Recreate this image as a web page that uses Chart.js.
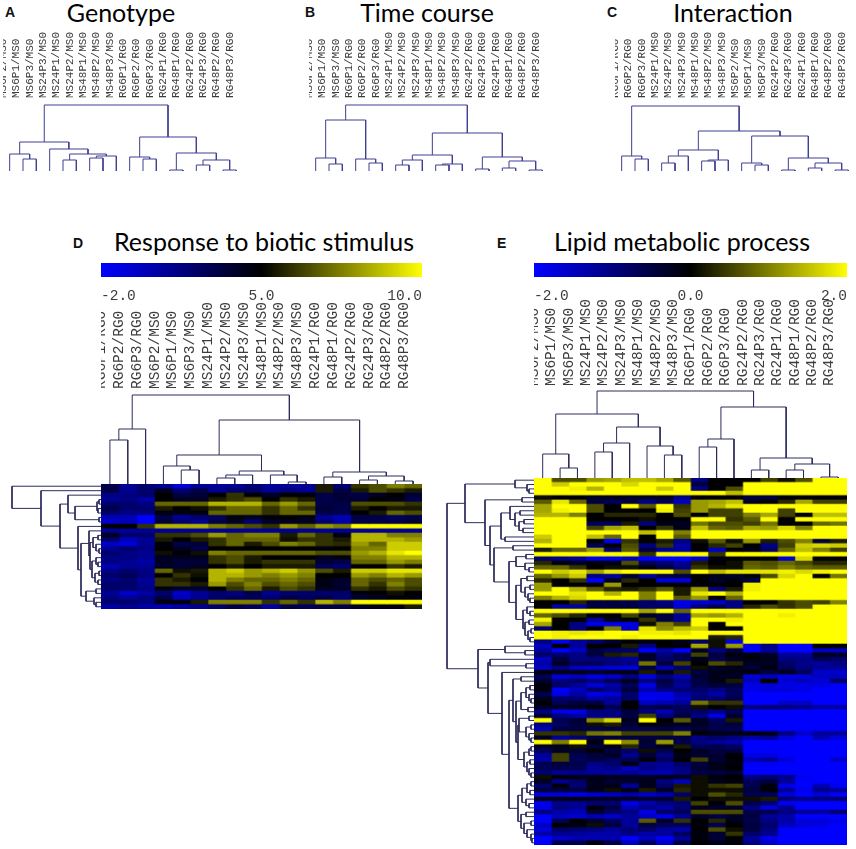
<!DOCTYPE html>
<html lang="en">
<head>
<meta charset="UTF-8">
<title>Clustered expression heatmaps</title>
<script src="https://cdn.jsdelivr.net/npm/chart.js@4"></script>
<style>
    body { margin: 0; background: #fff; }
    #page { position: relative; width: 856px; height: 849px; overflow: hidden; }
    canvas { position: absolute; }
    .title { position: absolute; transform: translateX(-50%); font: 25px Lato, sans-serif; color: #000; white-space: nowrap; line-height: 32px; }
    .tag { position: absolute; font: bold 14px "Liberation Sans", sans-serif; color: #111; line-height: 16px; }
</style>
</head>
<body>
<div id="page"></div>
<script>
// sample order per panel
const labelsA = ['MS6P2/MS0','MS6P1/MS0','MS6P3/MS0','MS24P3/MS0','MS24P1/MS0','MS24P2/MS0','MS48P1/MS0','MS48P2/MS0','MS48P3/MS0','RG6P1/RG0','RG6P2/RG0','RG6P3/RG0','RG24P1/RG0','RG48P1/RG0','RG24P2/RG0','RG24P3/RG0','RG48P2/RG0','RG48P3/RG0'];
const labelsB = ['MS6P2/MS0','MS6P1/MS0','MS6P3/MS0','RG6P1/RG0','RG6P2/RG0','RG6P3/RG0','MS24P1/MS0','MS24P2/MS0','MS24P3/MS0','MS48P1/MS0','MS48P2/MS0','MS48P3/MS0','RG24P2/RG0','RG24P3/RG0','RG24P1/RG0','RG48P1/RG0','RG48P2/RG0','RG48P3/RG0'];
const labelsC = ['RG6P1/RG0','RG6P2/RG0','RG6P3/RG0','MS24P1/MS0','MS24P2/MS0','MS24P3/MS0','MS48P1/MS0','MS48P2/MS0','MS48P3/MS0','MS6P2/MS0','MS6P1/MS0','MS6P3/MS0','RG24P2/RG0','RG24P3/RG0','RG24P1/RG0','RG48P1/RG0','RG48P2/RG0','RG48P3/RG0'];
const labelsD = ['RG6P1/RG0','RG6P2/RG0','RG6P3/RG0','MS6P2/MS0','MS6P1/MS0','MS6P3/MS0','MS24P1/MS0','MS24P2/MS0','MS24P3/MS0','MS48P1/MS0','MS48P2/MS0','MS48P3/MS0','RG24P1/RG0','RG48P1/RG0','RG24P2/RG0','RG24P3/RG0','RG48P2/RG0','RG48P3/RG0'];
const labelsE = ['MS6P2/MS0','MS6P1/MS0','MS6P3/MS0','MS24P1/MS0','MS24P2/MS0','MS24P3/MS0','MS48P1/MS0','MS48P2/MS0','MS48P3/MS0','RG6P1/RG0','RG6P2/RG0','RG6P3/RG0','RG24P2/RG0','RG24P3/RG0','RG24P1/RG0','RG48P1/RG0','RG48P2/RG0','RG48P3/RG0'];

// colour bar tick labels
const ticksD = ['-2.0', '5.0', '10.0'];
const ticksE = ['-2.0', '0.0', '2.0'];

// dendrograms: [height, left, right], 0 is a leaf
const treeA = [66, [29, [17, 0, [12, 0, 0]], [22, 0, [17, [11, 0, 0], [15, [13, 0, 0], 0]]]],
    [34, [14, 0, [12, 0, 0]], [18, [1, 0, 0], [11, [6, 0, 0], [1, 0, 0]]]]];
const treeB = [66, [51, [13, 0, [7, 0, 0]], [12, 0, [8, 0, 0]]],
    [38, [16, [11, [6, 0, 0], 0], [7, [6, 0, 0], 0]], [14, [2, 0, 0], [10, [3, 0, 0], [1, 0, 0]]]]];
const treeC = [65, [15, 0, [12, 0, 0]],
    [40, [21, [15, [8, 0, 0], 0], [11, [10, 0, 0], 0]], [35, [8, 0, [6, 0, 0]], [13, [1, 0, 0], [8, [3, 0, 0], [1, 0, 0]]]]]];
const treeD = [89, [55, [44, 0, 0], 0],
    [64, [29, [18, 0, [14, 0, 0]], [13, [9, [6, 0, 0], 0], [9, 0, [2, 0, 0]]]], [12, [7, 0, 0], [8, [4, 0, 0], [3, 0, 0]]]]];
const treeE = [87, [64, [24, 0, [10, 0, 0]], [51, [35, [26, 0, 0], 0], [32, 0, [23, 0, 0]]]],
    [71, [39, [31, 0, 0], 0], [20, [8, 0, 0], [14, [8, 0, 0], [1, 0, 0]]]]];

// row dendrograms of the two heatmaps
const rowTreeD = [89, 0, [60, 0, [41,
    [33, 0, [26, [4, [2, 0, 0], [3, 0, 0]], [2, 0, 0]]],
    [23, 0, [20,
        [12, 0, [11, [8, [3, 0, 0], [5, 0, [2, 0, 0]]], [9, [5, 0, [3, 0, 0]], [6, [2, 0, 0], [3, 0, 0]]]]],
        [15, [5, 0, 0], [7, 0, [5, 0, 0]]]]]]]];
const rowTreeE = [87,
    [69, [19, 0, [7, 0, [5, 0, 0]]], [49, [12, 0, 0], [44,
        [33, [24, 0, [19, [14, 0, 0], [15, [10, 0, 0], [11, 0, 0]]]], [29, 0, 0]],
        [40, [21, 0, 0], [25, [18, [8, 0, 0], [9, 0, [5, 0, 0]]],
            [18, [13, [7, 0, 0], [9, [4, 0, 0], [6, 0, [4, 0, 0]]]],
                [11, [7, 0, [4, 0, 0]], [9, [5, 0, 0], [6, [3, 0, 0], [4, 0, 0]]]]]]]]]],
    [56, [29, 0, [9, 0, 0]], [46, [44, 0, [8, 0, 0]], [32, 0, [25,
        [21, [13, 0, 0], [18, [13, [8, [4, 0, 0], [5, 0, [3, 0, 0]]], [6, 0, 0]],
            [16, [15, [5, 0, 0], [8, [3, 0, 0], [5, 0, [3, 0, 0]]]],
                [10, [5, [3, 0, 0], 0], [7, [4, 0, 0], [5, 0, [3, 0, 0]]]]]]],
        [16, [12, [7, [3, 0, 0], [4, 0, 0]], [8, 0, [5, 0, 0]]],
            [13, [8, 0, 0], [10, [3, 0, 0], [7, 0, [3, 0, [2, 0, 0]]]]]]]]]]];

// response to biotic stimulus, scale -2 .. 10, black at 5
const heatD = [
    [3,1,2,1,-1,1,1,1,2,1,1,1,5.5,2,6,6.5,7.5,7],
    [3,1,2,4,2,3,1,2,2,1,1.5,1,5.5,3,5.5,6.5,6,5.5],
    [1.5,1.5,2,5,3,3.5,5,6,5,4,5,5,3,3.5,3,4,5,3.5],
    [1,1.5,.5,5,4,4,5.5,6,6.5,5,6,5.5,3,3.5,3.5,5,4.5,3],
    [2,2,1.5,7,7,7,8.5,8.5,8.5,7,8,7,3,3,6.5,6.5,6.5,6],
    [3,2,2,5.5,5,5.3,6,7,7,6,7,6,3.5,3,5.5,5,5.5,5.5],
    [2,1.5,1.5,4.5,4.5,4.5,7,7,7,6,7,7,3,3,5,5.5,7,6.5],
    [0,0,-2,3,1,2,2.5,4.5,4,4.5,5,4.5,1,0,3,3,2.5,3],
    [-.5,0,-2,3.5,2,1,3,4,2,4,4,4,2,.5,3,3,3,3.5],
    [5,5,6,8.5,8.5,8.5,7.5,7,6.5,6,8,7,8,7.5,10,10,10,10],
    [1,1,1,1,1,1,1,1,1,1,1,1,1,1,1,1,1,1],
    [4,2,2,6,6,6.5,8,7,7.5,7.5,5.5,7,6,4.5,8.5,8.5,7.5,7.5],
    [2,0,1,5.5,5,5.5,6,7,7,7,5.3,6,6,5.5,8.5,8.5,8.5,8],
    [-.5,-1,1,4.8,3,3.5,6,7,5.5,6.5,7.5,7,6,5.8,8,7,9,9],
    [1,2,1.5,5,4,3,5,5,5,5,5,5,4.5,5,7.5,7.5,9,9],
    [2,1.5,1,5.3,5,5.3,7.5,7,7,7,7,7,6.5,6.5,8,8.5,9.5,10],
    [1.5,1.5,1,4,4,4,6,6.5,5.5,5,5,5,4,4.5,7.5,7.5,8.5,8.5],
    [1.5,1,.5,4,3.5,3.5,6,6.5,5.5,6,6,6,3.5,3,7,7,8,7.5],
    [0,1,1,4,3.5,4,4.8,5.5,5,5.5,5.5,5.5,2.5,2,4.8,5,6,5.5],
    [1.5,2,1.5,7,5.3,5.5,8.5,9,8,8.5,9,8,6.5,5.5,9,9,9.5,9.5],
    [2,2.5,1.5,5,6,5.3,8.5,8.5,8,7.5,8,7.5,5,5,8,7.5,8.5,8],
    [1.5,2,1,6,5.5,4.8,8.5,7.5,7,7,7.5,7,4.5,4,7,6.5,7,6.5],
    [2,2,1,6,6,5.5,8,6.5,7.5,6.5,7,6.5,4.5,3.5,7,6,7.5,6.5],
    [2,2,1.5,4.5,3.5,3.5,5,6,7,5.5,6.5,6,4,4,6,5.5,6.5,6],
    [1,-.5,.5,2,-.5,1,2,1.5,3,1,2,2,2,2,4.5,5,5.3,5],
    [1.5,1,1.5,3,0,1,2,2.5,2.5,2,3,2.5,3,2,3.5,4,4.5,4.5],
    [2,2,1.5,4.5,4.5,5.5,7.5,7.5,7.5,6,7,6,8.5,7.5,10,10,10,10],
    [.5,1,.5,0,.5,1,2,3,2.5,.5,3,2.5,3,3,4,4.5,4.5,5.5]
];

// lipid metabolic process, scale -2 .. 2, black at 0
const heatE = [
    [2,.6,.6,1.2,1.3,1.5,1.5,1.3,.7,-1,0,0,0,.5,.1,.6,2,2],
    [2,1.6,2,2,2,1.7,2,2,2,-.5,0,0,2,2,2,2,2,2],
    [2,2,1.9,1.4,2,2,2,1.6,2,-1,0,.6,2,2,2,2,2,2],
    [2,2,2,2,2,2,2,2,2,2,2,1.5,2,2,2,2,2,2],
    [.1,0,0,-.3,-.2,-.3,-.3,-.3,-1,0,0,0,-.5,-.5,0,0,0,0],
    [.7,1.8,.8,-.5,-.7,-.5,-1,-.7,-1.5,1.2,1.3,1.5,-.3,0,.3,1.3,.5,.5],
    [1.3,2,2,.6,0,2,.7,2,.4,1.2,1.4,1.8,2,2,2,2,2,2],
    [1.3,1.9,2,.6,0,0,0,1.9,.5,1.2,.5,.5,2,2,.5,2,2,2],
    [1.4,1.4,1,0,.3,.3,.3,0,.6,0,.5,.5,1,1.3,.5,0,1.5,1.5],
    [2,2,2,0,0,0,.1,0,0,2,2,.4,.7,2,0,2,2,2],
    [2,2,2,-.7,-.7,.2,-1,-.2,-.3,.9,.6,.6,.5,.9,0,0,.8,.9],
    [2,2,2,.5,1.3,1.5,0,.4,-.2,1.5,.8,.7,1.3,1.2,1.7,1,2,2],
    [2,2,2,2,2,2,1.5,2,1,2,2,2,2,2,2,2,2,2],
    [1.6,2,2,1.5,.8,2,0,2,.7,2,2,2,2,2,2,2,2,2],
    [1.4,2,2,0,-1.9,.4,0,.2,-1,.1,.7,.1,1.2,.2,.6,1,-.5,.2],
    [2,2,2,-.7,0,.6,-1,.4,-1.3,0,.3,.5,0,-1,.5,1.6,1.7,1.6],
    [.2,.8,.8,1.2,-.8,.7,-.5,-1.2,-1.2,-.1,-1.5,0,-.2,-.8,.8,1.5,1,.5],
    [2,2,2,2,2,2,.4,2,2,2,.4,2,2,2,2,2,2,2],
    [-.8,-1,-1.2,-1.8,-1.8,-1.5,-2,-2,-2,-1.6,-.1,0,0,0,-1.6,1.7,0,0],
    [.3,-.1,-.3,-.1,-.2,.6,-.7,-.9,-1.2,.2,0,.1,.7,.6,.8,.6,.3,.3],
    [.8,.8,.4,0,.1,.1,-.2,-.6,-1,.4,.1,.1,.8,.7,1,.8,.7,.7],
    [2,1.6,1.8,1.3,1.8,2,2,2,.6,2,1.5,1.8,1.8,1.8,1.9,1.7,1.9,2],
    [.8,1.2,1.6,-1,-1.2,-.4,-1.2,-.6,-.5,0,-.2,-.3,-.1,.6,1.7,2,0,.9],
    [.3,0,.4,-2,-.3,.3,0,-1.7,-1.7,0,-.3,-.1,-.5,2,2,2,2,2],
    [1.2,0,0,0,1.2,0,0,0,0,-.1,0,0,1.9,2,2,2,2,2],
    [1.2,2,1.4,.7,.3,.2,.4,.7,.2,1.2,-1,.2,1.9,2,2,2,2,2],
    [2,2,1.8,2,1.4,2,1,2,.2,1.8,2,1.4,2,2,2,2,2,2],
    [1,1.4,1.7,2,2,2,1,2,.7,1.2,0,.8,2,2,2,2,2,2],
    [0,0,.3,-.5,-.5,-.6,-.8,-1,-1.8,-1.6,-1.6,-1,0,0,.4,.6,.5,1],
    [0,-1.3,-1.3,-.5,-.5,-.5,-.8,-.8,-1.7,-1,-.6,-1,.3,.6,.4,.6,2,2],
    [2,2,2,2,2,2,1.3,2,.8,2,2,2,2,2,2,2,2,2],
    [.8,.6,.3,0,0,.5,-.3,-.5,-1.2,1.3,1.2,1.4,2,2,1.9,2,2,2],
    [1.9,0,0,-1.2,-.2,0,.4,-.5,-1.2,2,2,1.9,2,2,2,2,2,2],
    [1.3,0,-1,-1.8,-1.8,-1.8,.1,1,.5,2,0,2,2,2,2,2,2,2],
    [-.9,0,-1,0,1,-1.6,1.8,1.1,1.5,1.6,0,0,2,2,2,2,2,2],
    [2,1.9,1.8,1.9,2,2,1.9,1.9,1.8,2,2,2,2,2,2,2,2,2],
    [2,1.9,2,2,2,1.9,2,2,2,2,.2,.3,2,2,2,2,2,2],
    [-1,-1.9,-1.2,-.9,-.4,0,-.1,0,-.2,-.8,.1,-1.8,2,2,2,2,2,2],
    [-1.5,0,-1.2,0,0,.2,-1,0,0,1.3,.1,1.2,-1.8,-1,-2,-2,0,0],
    [-1.2,-2,-1.5,-.5,-.8,-.8,-2,-1.3,-2,-.3,-1,-.5,-2,-1.2,-2,-2,-1.5,-1.5],
    [-.8,-.8,-1,-.5,.2,.3,-.3,-1,-.6,.5,-.5,-.1,-.1,-.3,-1.2,-1.2,-.2,-.3],
    [-1.5,-.5,-1,-1,-1,-1.2,-.4,-.8,-.6,-.2,-.6,-.3,-.1,-.2,-1,-1,-.7,-.8],
    [-1.3,-.3,-.7,-.7,-.9,-1,.9,-.5,.5,0,.6,.3,-.3,-.3,-.8,-1.1,-1.2,-1],
    [-1.5,-1,-1.5,-1.6,-1.7,-1.7,-.5,-1.4,-.8,.1,-.3,-.2,-.4,-.1,-.7,-1,-1.2,-1.2],
    [-.1,-.2,-.2,-.3,-.2,-.2,.2,-.2,.2,-.5,-.2,-.2,-.1,-.5,-.2,-.7,-1.6,-1.6],
    [-.7,-1.7,-1.5,-1.8,-1.6,-1,-1.8,-1,-1.5,-.4,-.2,-.3,-1.7,-1.5,-1.8,-1.7,-1.5,-1.5],
    [-.4,-1,-.8,-1,-.7,-.3,-1,-.5,-1,-.5,-.2,.2,-1.5,0,-1.6,-1.5,-1.7,-.8],
    [-.1,-.8,-1.2,-1.7,-1.3,-.7,-1.8,-.7,-1.2,-.6,-.4,-.5,-1.8,-1.7,-1.8,-1.8,-1.8,-2],
    [-.1,-1.9,-1.5,-.8,-1.1,-.5,-1.4,-1,-.9,-.8,-1,-.7,-1.8,-1.7,-1.7,-1.8,-2,-2],
    [-.6,-1.8,-1.3,-1.8,-1.7,-.8,-1.8,-1.8,-1.3,-1,-1.3,-.7,-2,-2,-2,-2,-2,-2],
    [-.3,-.8,-.9,-1.3,-1.2,-.8,-1.9,-1.8,-1.5,-.9,-.9,-.6,-2,-2,-2,-2,-2,-2],
    [0,-.7,-.5,-.5,-1.2,0,-1.5,-1.4,-1.2,.9,.4,.4,-2,-2,-1.6,-1.6,-2,-2],
    [-.3,-.3,-.3,-.1,-.6,0,-.7,-.5,-.7,.1,0,.1,-1,-.9,-1,-1.1,-1.3,-1.3],
    [-1,-1.8,-1.8,-1,-1,-.5,-.9,-1.4,-.7,-.8,-1,-.7,-2,-2,-2,-2,-2,-2],
    [-.4,-1,-1.3,-1,-1,-.5,.5,-1,-.5,-1,-1.8,-.4,-2,-2,-2,-2,-2,-2],
    [2,-.6,-.4,1.1,1.7,-.3,2,0,.7,-.3,-.7,.2,-2,-2,-2,-2,-2,-2],
    [-1,-.8,-.5,.1,.2,-.4,0,-.2,-.3,-.3,-.6,-.5,-2,-2,-2,-2,-2,-2],
    [-1.4,-.5,-.5,-.6,-.5,-.6,-.6,-.5,-.6,-.4,-.6,-.6,-2,-2,-2,-2,-2,-2],
    [.4,.4,.3,.9,1,.5,.5,.5,1,-.1,-.2,-.2,-.1,-.2,-1,-1.6,-1.2,-1.2],
    [-.3,-1.2,-.9,-.5,-.5,-.5,-.5,-.5,-.5,-1,-.8,-1,-1.3,-1.1,-1.7,-2,-1.4,-1.7],
    [2,1,2,-.1,2,1.1,-.4,1.2,-.6,-1,-1.2,-1.3,-2,-2,-2,-2,-2,-2],
    [-.3,-.2,.1,-.5,-.2,.3,-.5,-.2,.2,-.7,-.6,-.8,-2,-2,-2,-2,-2,-2],
    [-.7,-.3,-.4,0,-.5,-.8,.1,-.6,0,-.3,-.5,-.5,-2,-2,-2,-2,-2,-2],
    [-1.2,.5,-.6,-.5,-.3,-1.1,-.5,-1,-.2,-.4,-.4,0,-1.8,-1.8,-2,-2,-2,-2],
    [-1.3,.5,-.7,-.5,-.7,-.7,0,-.7,0,.5,-.4,-.1,-1.4,-1.2,-1.7,-2,-2,-1.6],
    [-.6,-.5,-.6,-1,-.9,-.1,-1.1,-1.2,-.8,-.5,-.2,-.1,-1.9,-1.9,-2,-2,-2,-2],
    [-.7,-.6,-.7,-1.2,-1,-1.5,-1,-1.2,-1,-.4,-.2,0,-2,-2,-2,-2,-2,-2],
    [-.9,-1.2,-1.1,-1.2,-1.3,-1.2,-1.4,-1.4,-1,-.6,-.5,-.4,-2,-2,-2,-2,-2,-2],
    [.1,-.1,-.2,-.2,-.2,-.3,-.3,-.2,-.3,.1,-.1,0,-1,-.9,-1.1,-1.9,-2,-2],
    [-.3,-1.1,-.8,-.2,-.4,-.4,-.2,-1,-1.5,.1,-.2,-.1,-.7,-.5,-1.2,-2,-2,-2],
    [-.8,-.1,-.9,-.2,-.2,-1.2,-.2,-.8,.2,.1,.4,.5,-.6,-.1,-1.8,-2,-1.4,-1.9],
    [-.5,-.5,-.5,-.2,.1,-.2,.2,-.3,.3,.1,.1,.1,-.5,-.1,-1.2,-1.9,-1.1,-1.2],
    [-1.7,-1.7,-1.8,-1.6,-1.5,-1.3,-1.6,-1.4,-.8,.1,.6,.3,-.6,-.7,-1.7,-2,-1.7,-2],
    [-.2,-.2,-.2,-.3,-.3,-.3,-.4,-.4,.2,0,.1,.1,.1,.2,-.9,-1.1,-1,-.9],
    [-1.8,-1.1,-1.1,-.9,-.9,-1.8,-1.4,-1,-.9,.5,-.1,.6,-.6,-.9,-1.9,-2,-2,-2],
    [-1.8,-1,-1.2,-.1,-.5,-1.4,-1,-1.3,-.9,-.2,-.3,-.3,-1,-1.7,-1.1,-2,-2,-2],
    [-1,-1.3,-1.4,-.4,-.8,-1,-1.8,-.8,-.7,.6,.6,.6,-.6,-.6,-1,-1.2,-1.2,-.9],
    [-1.9,-1.5,-1.6,-1.4,-1.6,-1.2,-1.5,-1.8,-1.2,-.3,-.5,-.3,-.5,-1.2,-1.3,-2,-2,-2],
    [-2,-.7,0,-.4,-.7,-1.2,.7,-.3,.4,0,.3,-.2,-.6,-1,-1.3,-1.7,-1.7,-1.8],
    [-1.5,0,-.1,.1,-.5,-1.2,-.5,-.7,-.7,-.1,-.6,0,-.5,-.8,-1.5,-1.7,-1.8,-2],
    [-1.7,-.8,-.9,-1,-1.2,-.9,-.8,-1.2,-1.3,0,.6,.1,-.5,-1,-2,-2,-2,-2],
    [-1.3,-1.1,-1.2,-1.3,-1.3,-1,-1.3,-1.2,-.7,-.1,-.4,.4,-.8,-1.1,-2,-2,-2,-2],
    [-2,-1.6,-1.4,-1.4,-1.4,-2,-1.5,-1.9,-1.2,-.1,-.4,0,-1.2,-1.8,-2,-2,-2,-2],
    [-2,-.6,-.6,-.1,-.6,-1.5,-.8,-1.6,-.6,0,-.2,-.1,-1,-1.6,-2,-2,-2,-2]
];

Chart.defaults.animation = false;
Chart.defaults.responsive = false;
Chart.defaults.plugins.legend.display = false;
Chart.defaults.plugins.tooltip.enabled = false;

const page = document.getElementById('page');

function addCanvas(left, top, w, h) {
    const c = document.createElement('canvas');
    c.width = w;
    c.height = h;
    c.style.left = left + 'px';
    c.style.top = top + 'px';
    page.appendChild(c);
    return c;
}

function addText(cls, text, left, top) {
    const s = document.createElement('span');
    s.className = cls;
    s.textContent = text;
    s.style.left = left + 'px';
    s.style.top = top + 'px';
    page.appendChild(s);
}

// keep the axis at a set height and stop it eating plot width
function fixAxis(s, height) {
    s.height = height;
    s.paddingLeft = s.paddingRight = s.paddingTop = s.paddingBottom = 0;
}

// turn a nested tree into line points, null breaks the line
function treePoints(tree, flip) {
    const pts = [];
    let next = 0;
    const add = (p, h) => pts.push(flip ? {x: h, y: p} : {x: p, y: h});
    function walk(n) {
        if (n === 0) return {p: next++, h: 0};
        const a = walk(n[1]), b = walk(n[2]);
        add(a.p, a.h); add(a.p, n[0]); add(b.p, n[0]); add(b.p, b.h);
        pts.push({x: null, y: null});
        return {p: (a.p + b.p) / 2, h: n[0]};
    }
    walk(tree);
    return pts;
}

function lineSet(points, color) {
    return {data: points, borderColor: color, borderWidth: 1, pointRadius: 0, showLine: true, spanGaps: false, tension: 0};
}

// top dendrogram with the sample names above it
function topTree(labels, tree, box, color, fontSize) {
    new Chart(addCanvas(box.left, box.top, box.w, box.h), {
        type: 'scatter',
        data: {datasets: [lineSet(treePoints(tree, false), color)]},
        options: {
            scales: {
                x: {
                    type: 'linear', position: 'top', min: -0.5, max: labels.length - 0.5,
                    grid: {display: false, drawTicks: false}, border: {display: false},
                    afterBuildTicks: s => { s.ticks = labels.map((_, i) => ({value: i})); },
                    afterFit: s => fixAxis(s, box.axis),
                    ticks: {
                        autoSkip: false, minRotation: 90, maxRotation: 90, padding: box.pad,
                        labelOffset: fontSize * 0.6,
                        color: '#3c3c3c', font: {family: 'Liberation Mono', size: fontSize},
                        callback: (v, i) => labels[i]
                    }
                },
                y: {display: false, min: 0, max: box.h - box.axis}
            }
        }
    });
}

// row dendrogram left of a heatmap
function rowTree(tree, rows, box, color) {
    const pts = treePoints(tree, true);
    new Chart(addCanvas(box.left, box.top, box.w, box.h), {
        type: 'scatter',
        data: {datasets: [lineSet(pts, color)]},
        options: {
            scales: {
                x: {display: false, min: 0, max: box.w, reverse: true},
                y: {display: false, min: -0.5, max: rows - 0.5, reverse: true}
            }
        }
    });
}

function heatColor(v, lo, mid, hi) {
    if (v < mid) {
        const t = Math.round(255 * (mid - v) / (mid - lo));
        return `rgb(0,0,${t})`;
    }
    const t = Math.round(255 * (v - mid) / (hi - mid));
    return `rgb(${t},${t},0)`;
}

// heatmap as stacked one-unit bars, drawn on whole pixels then sized down
function heatmap(rows, scale, box) {
    const cols = rows[0].length;
    const cv = addCanvas(box.left, box.top, cols * 18, rows.length * 5);
    const datasets = [];
    for (let c = 0; c < cols; c++) {
        datasets.push({
            data: rows.map(() => 1),
            backgroundColor: rows.map(r => heatColor(r[c], scale[0], scale[1], scale[2])),
            barPercentage: 1, categoryPercentage: 1, borderWidth: 0
        });
    }
    new Chart(cv, {
        type: 'bar',
        data: {labels: rows.map((_, i) => i), datasets},
        options: {
            indexAxis: 'y',
            scales: {
                x: {display: false, stacked: true, min: 0, max: cols},
                y: {display: false, stacked: true}
            }
        }
    });
    cv.style.width = box.w + 'px';
    cv.style.height = box.h + 'px';
}

// colour bar with three ticks
function colorBar(ticks, box) {
    new Chart(addCanvas(box.left, box.top, box.w, box.h), {
        type: 'bar',
        data: {
            labels: [''],
            datasets: [{
                data: [[0, ticks.length - 1]],
                barPercentage: 1, categoryPercentage: 1,
                backgroundColor: ctx => {
                    const g = ctx.chart.ctx.createLinearGradient(0, 0, box.w, 0);
                    g.addColorStop(0, '#0000ff');
                    g.addColorStop(0.5, '#000000');
                    g.addColorStop(1, '#ffff00');
                    return g;
                }
            }]
        },
        options: {
            indexAxis: 'y',
            scales: {
                x: {
                    min: 0, max: ticks.length - 1,
                    grid: {display: false, drawTicks: false}, border: {display: false},
                    afterFit: s => fixAxis(s, box.h - 14),
                    ticks: {
                        stepSize: 1, align: 'inner', maxRotation: 0, padding: 10,
                        color: '#3c3c3c', font: {family: 'Liberation Mono', size: 14.5},
                        callback: (v, i) => ticks[i]
                    }
                },
                y: {display: false}
            }
        }
    });
}

const blueLine = '#3f3f95';
const navyLine = '#2c2c5c';

topTree(labelsA, treeA, {left: 3, top: 30, w: 240, h: 141, axis: 70, pad: 2}, blueLine, 11);
topTree(labelsB, treeB, {left: 309, top: 30, w: 240, h: 141, axis: 70, pad: 2}, blueLine, 11);
topTree(labelsC, treeC, {left: 615, top: 30, w: 240, h: 141, axis: 70, pad: 2}, blueLine, 11);

colorBar(ticksD, {left: 101, top: 263, w: 321, h: 37});
colorBar(ticksE, {left: 534, top: 263, w: 313, h: 37});

topTree(labelsD, treeD, {left: 101, top: 298, w: 321, h: 186, axis: 92, pad: 1}, navyLine, 14.5);
topTree(labelsE, treeE, {left: 534, top: 296, w: 313, h: 182, axis: 92, pad: 2}, navyLine, 14.5);

heatmap(heatD, [-2, 5, 10], {left: 101, top: 484, w: 321, h: 125});
heatmap(heatE, [-2, 0, 2], {left: 534, top: 478, w: 313, h: 367});

rowTree(rowTreeD, heatD.length, {left: 8, top: 484, w: 93, h: 125}, navyLine);
rowTree(rowTreeE, heatE.length, {left: 444, top: 478, w: 90, h: 367}, navyLine);

addText('title', 'Genotype', 121, -4);
addText('title', 'Time course', 427, -4);
addText('title', 'Interaction', 733, -4);
addText('title', 'Response to biotic stimulus', 264, 225);
addText('title', 'Lipid metabolic process', 682, 225);
addText('tag', 'A', 5, 4);
addText('tag', 'B', 305, 4);
addText('tag', 'C', 607, 4);
addText('tag', 'D', 73, 235);
addText('tag', 'E', 497, 235);
</script>
</body>
</html>
